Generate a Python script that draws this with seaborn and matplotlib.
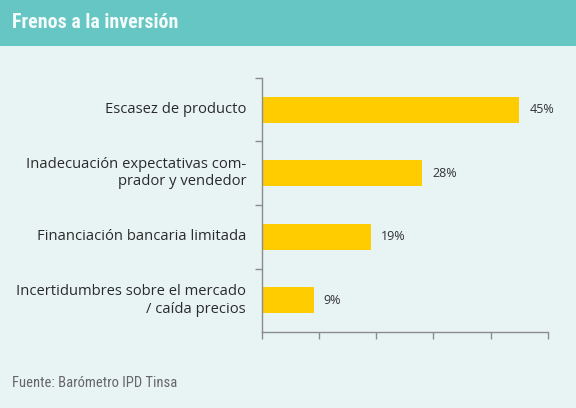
import matplotlib
matplotlib.use("Agg")
from matplotlib import pyplot as plt
import seaborn as sns
import pandas as pd

categories = [
    "Escasez de producto",
    "Inadecuación expectativas com-\nprador y vendedor",
    "Financiación bancaria limitada",
    "Incertidumbres sobre el mercado\n/ caída precios",
]
values = [45, 28, 19, 9]
value_labels = ["45%", "28%", "19%", "9%"]
title = "Frenos a la inversión"
source = "Fuente: Barómetro IPD Tinsa"

bg = "#E8F4F4"
teal = "#66C6C4"
yellow = "#FFCC00"
grey = "#8C8C8C"
narrow = ["Roboto Condensed", "Liberation Sans Narrow", "Roboto", "DejaVu Sans"]

sns.set_style("white")
plt.rcParams["font.family"] = ["Open Sans", "DejaVu Sans"]

df = pd.DataFrame({"cat": categories, "val": values})

fig = plt.figure(figsize=(5.76, 4.08), dpi=100, facecolor=bg)
ax = fig.add_axes([0.455, 0.186, 0.496, 0.623])
ax.set_facecolor(bg)

sns.barplot(data=df, x="val", y="cat", orient="h", color=yellow,
            saturation=1, width=0.41, linewidth=0, ax=ax)

for i, (v, lab) in enumerate(zip(values, value_labels)):
    ax.text(v + 1.75, i, lab, va="center", ha="left", fontsize=9, color="#333333")

ax.set_xlim(0, 50)
ax.set_ylim(3.5, -0.5)
ax.set_xticks([0, 10, 20, 30, 40, 50])
ax.set_xticklabels([])
ax.set_yticks([-0.5, 0.5, 1.5, 2.5])
ax.set_yticklabels([])
ax.set_xlabel("")
ax.set_ylabel("")
for s in ["top", "right"]:
    ax.spines[s].set_visible(False)
for s in ["left", "bottom"]:
    ax.spines[s].set_color(grey)
    ax.spines[s].set_linewidth(1)
ax.tick_params(axis="both", direction="out", length=5, color=grey, width=1,
               bottom=True, left=True)

for i, c in enumerate(categories):
    ax.text(-0.056, i, c, transform=ax.get_yaxis_transform(), ha="right",
            va="center", fontsize=10.6, color="#2a2a2a", multialignment="right",
            linespacing=1.22)

# header band
fig.patches.append(plt.Rectangle((0, 1 - 46 / 408), 1, 46 / 408, transform=fig.transFigure,
                                 facecolor=teal, edgecolor="none", zorder=0))
fig.text(12 / 576, 1 - 23 / 408, title, ha="left", va="center", fontsize=14.3,
         fontweight="bold", color="#F4FBFB", family=narrow)
fig.text(12 / 576, 1 - 383 / 408, source, ha="left", va="center", fontsize=10.5,
         color="#666666", family=narrow)

fig.savefig("out.png", dpi=100, facecolor=bg)
